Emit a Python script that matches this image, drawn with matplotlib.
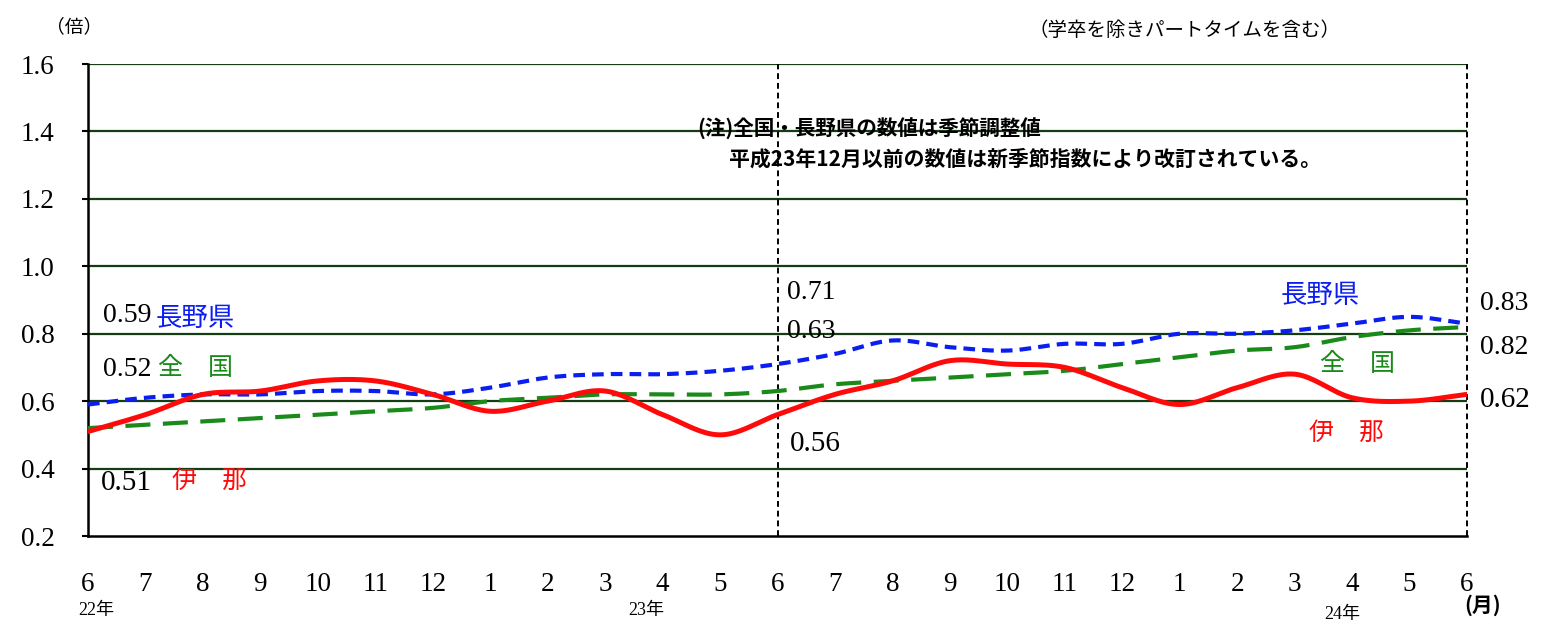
import matplotlib
matplotlib.use("Agg")
import matplotlib.pyplot as plt
import numpy as np

months = ['6', '7', '8', '9', '10', '11', '12', '1', '2', '3', '4', '5', '6',
          '7', '8', '9', '10', '11', '12', '1', '2', '3', '4', '5', '6']
ina = [0.51, 0.56, 0.62, 0.63, 0.66, 0.66, 0.62, 0.57, 0.60, 0.63, 0.56, 0.50, 0.56,
       0.62, 0.66, 0.72, 0.71, 0.70, 0.64, 0.59, 0.64, 0.68, 0.61, 0.60, 0.62]
nagano = [0.59, 0.61, 0.62, 0.62, 0.63, 0.63, 0.62, 0.64, 0.67, 0.68, 0.68, 0.69, 0.71,
          0.74, 0.78, 0.76, 0.75, 0.77, 0.77, 0.80, 0.80, 0.81, 0.83, 0.85, 0.83]
zenkoku = [0.52, 0.53, 0.54, 0.55, 0.56, 0.57, 0.58, 0.60, 0.61, 0.62, 0.62, 0.62, 0.63,
           0.65, 0.66, 0.67, 0.68, 0.69, 0.71, 0.73, 0.75, 0.76, 0.79, 0.81, 0.82]

W, H = 1551, 626
SERIF = ['Liberation Serif', 'DejaVu Serif']
JP = ['Noto Sans CJK JP', 'DejaVu Sans']


def smooth(vals, n=20):
    # Catmull-Rom curve through the points, like Excel's smoothed line
    p = np.array(vals, dtype=float)
    p = np.concatenate([[2 * p[0] - p[1]], p, [2 * p[-1] - p[-2]]])
    xs, ys = [], []
    t = np.linspace(0, 1, n, endpoint=False)
    for i in range(1, len(p) - 2):
        p0, p1, p2, p3 = p[i - 1], p[i], p[i + 1], p[i + 2]
        y = 0.5 * (2 * p1 + (-p0 + p2) * t + (2 * p0 - 5 * p1 + 4 * p2 - p3) * t ** 2
                   + (-p0 + 3 * p1 - 3 * p2 + p3) * t ** 3)
        xs.append(i - 1 + t)
        ys.append(y)
    xs.append([len(vals) - 1])
    ys.append([vals[-1]])
    return np.concatenate(xs), np.concatenate(ys)


def px(x, y):
    return x / W, 1 - y / H


fig = plt.figure(figsize=(W / 100, H / 100), dpi=100)
ax = fig.add_axes([88 / W, 1 - 536 / H, (1467 - 88) / W, (536 - 64) / H])

ax.set_xlim(0, 24)
ax.set_ylim(0.2, 1.6)
for v in [0.4, 0.6, 0.8, 1.0, 1.2, 1.4, 1.6]:
    ax.axhline(v, color='#143d14', lw=1.6, zorder=1)

for s in ['top', 'right']:
    ax.spines[s].set_visible(False)
ax.spines['left'].set_linewidth(1.8)
ax.spines['bottom'].set_linewidth(1.8)

ax.vlines([12, 24], 0.2, 1.6, colors='black', linestyles=(0, (3, 2)), lw=1.4,
          zorder=2, clip_on=False)

x, y = smooth(zenkoku)
ax.plot(x, y, color='#1a8a1a', lw=3.0, dashes=(6, 3), zorder=3, solid_capstyle='butt')
x, y = smooth(nagano)
ax.plot(x, y, color='#0a1ef0', lw=3.0, dashes=(2.8, 1.7), zorder=4)
x, y = smooth(ina)
ax.plot(x, y, color='#ff0a0a', lw=3.6, zorder=5)

ax.set_yticks([0.2, 0.4, 0.6, 0.8, 1.0, 1.2, 1.4, 1.6])
ax.set_yticklabels(['0.2', '0.4', '0.6', '0.8', '1.0', '1.2', '1.4', '1.6'],
                   family=SERIF, fontsize=19.5)
ax.tick_params(axis='y', length=4, width=1.5, pad=20)
ax.set_xticks(range(25))
ax.set_xticklabels(months, family=SERIF, fontsize=19.5)
ax.tick_params(axis='x', length=0, pad=26)

# headers
fig.text(*px(46, 27), '（倍）', family=JP, fontsize=13.5, va='center', ha='left')
fig.text(*px(1028, 30), '（学卒を除きパートタイムを含む）', family=JP, fontsize=14,
         va='center', ha='left')
fig.text(*px(697, 129), '(注)全国・長野県の数値は季節調整値', family=JP, fontsize=14.8,
         fontweight='bold', va='center', ha='left')
fig.text(*px(729, 159), '平成23年12月以前の数値は新季節指数により改訂されている。', family=JP,
         fontsize=15, fontweight='bold', va='center', ha='left')

# value labels
fig.text(*px(103, 316), '0.59', family=SERIF, fontsize=20, va='center', ha='left')
fig.text(*px(156, 318), '長野県', family=JP, fontsize=19, color='#0a1ef0', va='center', ha='left')
fig.text(*px(103, 369), '0.52', family=SERIF, fontsize=20, va='center', ha='left')
fig.text(*px(158, 368), '全　国', family=JP, fontsize=18, color='#1a8a1a', va='center', ha='left')
fig.text(*px(101, 483), '0.51', family=SERIF, fontsize=21, va='center', ha='left')
fig.text(*px(172, 481), '伊　那', family=JP, fontsize=18, color='#ff0a0a', va='center', ha='left')

fig.text(*px(787, 292), '0.71', family=SERIF, fontsize=20, va='center', ha='left')
fig.text(*px(787, 332), '0.63', family=SERIF, fontsize=20, va='center', ha='left')
fig.text(*px(790, 444), '0.56', family=SERIF, fontsize=21, va='center', ha='left')

fig.text(*px(1281, 296), '長野県', family=JP, fontsize=19, color='#0a1ef0', va='center', ha='left')
fig.text(*px(1320, 364), '全　国', family=JP, fontsize=18, color='#1a8a1a', va='center', ha='left')
fig.text(*px(1309, 433), '伊　那', family=JP, fontsize=18, color='#ff0a0a', va='center', ha='left')

fig.text(*px(1480, 303), '0.83', family=SERIF, fontsize=20, va='center', ha='left')
fig.text(*px(1480, 347), '0.82', family=SERIF, fontsize=20, va='center', ha='left')
fig.text(*px(1480, 400), '0.62', family=SERIF, fontsize=21, va='center', ha='left')

# year labels and unit
fig.text(*px(96, 610), '22年', family=['Liberation Serif', 'Noto Sans CJK JP'], fontsize=13,
         va='center', ha='center')
fig.text(*px(646, 610), '23年', family=['Liberation Serif', 'Noto Sans CJK JP'], fontsize=13,
         va='center', ha='center')
fig.text(*px(1342, 615), '24年', family=['Liberation Serif', 'Noto Sans CJK JP'], fontsize=13,
         va='center', ha='center')
fig.text(*px(1483, 605), '(月)', family=JP, fontsize=15, fontweight='bold',
         va='center', ha='center')

fig.savefig('out.png', dpi=100)
